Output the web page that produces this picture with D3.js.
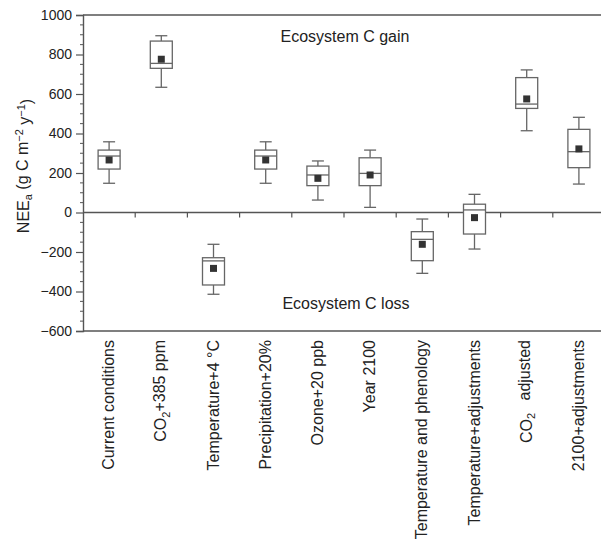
<!DOCTYPE html>
<html>
<head>
<meta charset="utf-8">
<script src="https://cdn.jsdelivr.net/npm/d3@7"></script>
<style>
  html, body { margin: 0; padding: 0; background: #fff; }
  svg { display: block; font-family: Arial, "Liberation Sans", Helvetica, sans-serif; }
</style>
</head>
<body>
<svg id="chart" width="601" height="543"></svg>
<script>
// ---- data ----
const categories = ["Current conditions", "CO2+385 ppm", "Temperature+4 °C", "Precipitation+20%",
  "Ozone+20 ppb", "Year 2100", "Temperature and phenology", "Temperature+adjustments",
  "CO2 adjusted", "2100+adjustments"];
const whiskerHigh = [358, 895, -161, 358, 261, 316, -33, 92, 722, 482];
const boxHigh     = [316, 868, -229, 316, 235, 277, -97, 42, 683, 421];
const medians     = [286, 755, -245, 286, 190, 198, -136, 13, 549, 308];
const boxLow      = [220, 730, -367, 220, 136, 136, -244, -109, 527, 227];
const whiskerLow  = [148, 634, -414, 148, 63, 26, -308, -185, 414, 144];
const means       = [266, 776, -283, 266, 173, 190, -161, -26, 575, 322];
const yTicks = [-600, -400, -200, 0, 200, 400, 600, 800, 1000];
const yMinorTicks = d3.range(-600, 1001, 50);

(function () {
const svg = d3.select("#chart");
const pLeft = 83, pRight = 605, pTop = 15, pBottom = 331;
const axisColor = "#555", boxColor = "#666", textColor = "#222";

const y = d3.scaleLinear().domain([-600, 1000]).range([pBottom, pTop]);
const x = d3.scaleBand().domain(categories).range([pLeft, pRight]).padding(0);
const cx = c => x(c) + x.bandwidth() / 2;

// frame top & bottom lines
svg.append("line").attr("x1", pLeft).attr("x2", 601).attr("y1", pTop).attr("y2", pTop)
  .attr("stroke", axisColor).attr("stroke-width", 1.4);
svg.append("line").attr("x1", pLeft).attr("x2", 601).attr("y1", pBottom).attr("y2", pBottom)
  .attr("stroke", axisColor).attr("stroke-width", 1.4);

// y axis major
const yAxis = svg.append("g").attr("transform", `translate(${pLeft},0)`)
  .call(d3.axisLeft(y).tickValues(yTicks).tickSize(7).tickPadding(4).tickFormat(d => d < 0 ? "\u2212" + Math.abs(d) : d));
yAxis.select(".domain").attr("stroke", axisColor).attr("stroke-width", 1.4);
yAxis.selectAll(".tick line").attr("stroke", axisColor).attr("stroke-width", 1.2);
yAxis.selectAll(".tick text").attr("fill", textColor).style("font-size", "14px")
  .style("font-family", "Arial, 'Liberation Sans', sans-serif");
// minor ticks
svg.append("g").selectAll("line").data(yMinorTicks.filter(v => !yTicks.includes(v))).join("line")
  .attr("x1", pLeft - 3).attr("x2", pLeft).attr("y1", d => y(d)).attr("y2", d => y(d))
  .attr("stroke", axisColor).attr("stroke-width", 1);

// zero line with ticks
svg.append("line").attr("x1", pLeft).attr("x2", 601).attr("y1", y(0)).attr("y2", y(0))
  .attr("stroke", axisColor).attr("stroke-width", 1.3);
svg.append("g").selectAll("line").data(categories.slice(1)).join("line")
  .attr("x1", d => x(d)).attr("x2", d => x(d)).attr("y1", y(0)).attr("y2", y(0) + 5)
  .attr("stroke", axisColor).attr("stroke-width", 1.2);

// boxes
const bw = 22, capW = 10, ms = 7;
const g = svg.append("g");
categories.forEach((c, i) => {
  const xc = cx(c);
  const gg = g.append("g").attr("stroke", boxColor).attr("stroke-width", 1.3).attr("fill", "none");
  gg.append("line").attr("x1", xc).attr("x2", xc).attr("y1", y(whiskerHigh[i])).attr("y2", y(boxHigh[i]));
  gg.append("line").attr("x1", xc).attr("x2", xc).attr("y1", y(boxLow[i])).attr("y2", y(whiskerLow[i]));
  gg.append("line").attr("x1", xc - capW / 2 - 1).attr("x2", xc + capW / 2 + 1).attr("y1", y(whiskerHigh[i])).attr("y2", y(whiskerHigh[i]));
  gg.append("line").attr("x1", xc - capW / 2 - 1).attr("x2", xc + capW / 2 + 1).attr("y1", y(whiskerLow[i])).attr("y2", y(whiskerLow[i]));
  gg.append("rect").attr("x", xc - bw / 2).attr("width", bw)
    .attr("y", y(boxHigh[i])).attr("height", y(boxLow[i]) - y(boxHigh[i])).attr("fill", "#fff");
  gg.append("line").attr("x1", xc - bw / 2).attr("x2", xc + bw / 2).attr("y1", y(medians[i])).attr("y2", y(medians[i]));
  g.append("rect").attr("x", xc - ms / 2).attr("y", y(means[i]) - ms / 2).attr("width", ms).attr("height", ms)
    .attr("fill", "#333");
});

// annotations
svg.append("text").attr("x", 345).attr("y", 42).attr("text-anchor", "middle")
  .style("font-size", "16px").attr("fill", textColor).text("Ecosystem C gain");
svg.append("text").attr("x", 346).attr("y", 309).attr("text-anchor", "middle")
  .style("font-size", "16px").attr("fill", textColor).text("Ecosystem C loss");

// y title
const yt = svg.append("text").attr("transform", `translate(29,166) rotate(-90)`)
  .attr("text-anchor", "middle").style("font-size", "16px").attr("fill", textColor);
yt.append("tspan").text("NEE");
yt.append("tspan").attr("dy", "0.3em").style("font-size", "11px").text("a");
yt.append("tspan").attr("dy", "-0.3em").text(" (g C m");
yt.append("tspan").attr("dy", "-0.45em").style("font-size", "11px").text("\u22122");
yt.append("tspan").attr("dy", "0.45em").text(" y");
yt.append("tspan").attr("dy", "-0.45em").style("font-size", "11px").text("\u22121");
yt.append("tspan").attr("dy", "0.45em").text(")");

// x labels
categories.forEach(c => {
  const t = svg.append("text").attr("transform", `translate(${cx(c) + 5},340) rotate(-90)`)
    .attr("text-anchor", "end").style("font-size", "16px").attr("fill", textColor);
  if (c.startsWith("CO2")) {
    t.append("tspan").text("CO");
    t.append("tspan").attr("dy", "0.3em").style("font-size", "11px").text("2");
    t.append("tspan").attr("dy", "-0.3em").attr("xml:space", "preserve")
      .text(c === "CO2 adjusted" ? "\u2002 adjusted" : "+385 ppm");
  } else {
    t.text(c);
  }
});
})();
</script>
</body>
</html>
